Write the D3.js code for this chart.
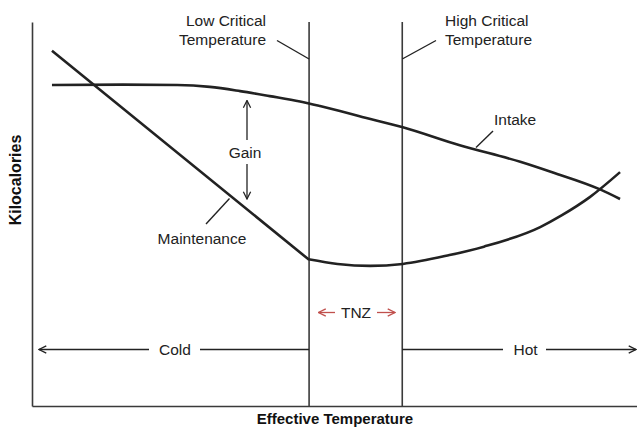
<!DOCTYPE html>
<html><head><meta charset="utf-8">
<script src="https://cdn.jsdelivr.net/npm/d3@7"></script>
<style>body{margin:0;background:#fff}svg{display:block}text{font-family:"Liberation Sans",Arial,sans-serif}</style>
</head><body>
<script>
// Data (effective temperature units 0-100, kilocalorie units 0-100)
// Maintenance: straight decline to the low critical temperature, then a smooth curve
const maintTemp = [3.3, 45.7, 50.5, 55.9, 61.3, 69, 74.7, 84, 87.6, 92.2, 97.2];
const maintKcal = [92.5, 38.2, 37.0, 36.5, 37.0, 39.3, 41.5, 46.6, 49.7, 54.4, 60.9];
const intakeTemp = [3.3, 15, 24, 29.4, 34.4, 39.3, 44.3, 47.6, 50.9, 54, 61.3, 70.7, 80.7, 86.1, 93.9, 97.2];
const intakeKcal = [83.6, 83.7, 83.6, 83.1, 82.0, 80.7, 79.3, 78.1, 76.8, 75.5, 72.6, 67.9, 63.6, 60.8, 56.4, 53.9];
const criticalTemps = [45.8, 61.2];
const criticalLabels = [["Low Critical", "Temperature"], ["High Critical", "Temperature"]];
const zoneLabels = ["Cold", "TNZ", "Hot"];
const seriesLabels = ["Intake", "Maintenance", "Gain"];
const axisTitles = ["Effective Temperature", "Kilocalories"];

const W = 637, H = 427;
const svg = d3.select("body").append("svg").attr("width", W).attr("height", H);
const x = d3.scaleLinear().domain([0, 100]).range([32, 637]);
const y = d3.scaleLinear().domain([0, 100]).range([406, 22]);
const ink = "#222", frame = "#3a3a3a";

// defs: arrowheads
const defs = svg.append("defs");
function marker(id, color) {
  defs.append("marker").attr("id", id).attr("viewBox", "0 0 10 10")
    .attr("refX", 9).attr("refY", 5).attr("markerWidth", 7).attr("markerHeight", 7)
    .attr("orient", "auto-start-reverse")
    .append("path").attr("d", "M1,1 L9,5 L1,9").attr("fill", "none")
    .attr("stroke", color).attr("stroke-width", 1.4);
}
marker("ab", ink); marker("ar", "#c0504d");

// axes (frame)
svg.append("g").attr("transform", `translate(0,${y(0)})`)
  .call(d3.axisBottom(x).ticks(0).tickSize(0).tickFormat(""))
  .call(g => g.select(".domain").attr("stroke", frame).attr("stroke-width", 1.6));
svg.append("g").attr("transform", `translate(${x(0)},0)`)
  .call(d3.axisLeft(y).ticks(0).tickSize(0).tickFormat(""))
  .call(g => g.select(".domain").attr("stroke", frame).attr("stroke-width", 1.6));

// critical temperature lines
svg.selectAll(".crit").data(criticalTemps).join("line")
  .attr("x1", d => x(d)).attr("x2", d => x(d)).attr("y1", y(100)).attr("y2", y(0))
  .attr("stroke", frame).attr("stroke-width", 1.6);

// curves
const smooth = d3.line().x(d => x(d[0])).y(d => y(d[1])).curve(d3.curveMonotoneX);
const straight = d3.line().x(d => x(d[0])).y(d => y(d[1]));
const intake = intakeTemp.map((t, i) => [t, intakeKcal[i]]);
const maint = maintTemp.map((t, i) => [t, maintKcal[i]]);
svg.append("path").datum(intake)
  .attr("d", smooth).attr("fill", "none").attr("stroke", ink).attr("stroke-width", 2.6);
const maintPath = straight(maint.slice(0, 2)) + "L" + smooth(maint.slice(1)).slice(1);
svg.append("path").attr("d", maintPath).attr("fill", "none").attr("stroke", ink)
  .attr("stroke-width", 2.6).attr("stroke-linejoin", "round");

function txt(s, px, py, anchor, opts = {}) {
  return svg.append("text").attr("x", px).attr("y", py).attr("text-anchor", anchor)
    .attr("font-size", opts.size || 15.5).attr("font-weight", opts.weight || "normal")
    .attr("fill", opts.fill || ink).text(s);
}
function seg(x1, y1, x2, y2, opts = {}) {
  const l = svg.append("line").attr("x1", x1).attr("y1", y1).attr("x2", x2).attr("y2", y2)
    .attr("stroke", opts.color || ink).attr("stroke-width", opts.w || 1.4);
  if (opts.end) l.attr("marker-end", `url(#${opts.end})`);
  return l;
}

// critical labels
txt(criticalLabels[0][0], 266, 26, "end");
txt(criticalLabels[0][1], 266, 45, "end");
seg(277, 40.5, x(criticalTemps[0]), 59);
txt(criticalLabels[1][0], 445, 26, "start");
txt(criticalLabels[1][1], 445, 45, "start");
seg(436, 40.5, x(criticalTemps[1]), 59);

// Intake label
txt(seriesLabels[0], 494, 125, "start");
seg(493, 131, 476, 147.5);

// Maintenance label
txt(seriesLabels[1], 202, 244, "middle");
seg(206, 224, 229.5, 198.5);

// Gain
txt(seriesLabels[2], 245, 158, "middle");
seg(247, 140, 247, 100.5, { end: "ab", w: 1.3 });
seg(247, 164, 247, 199, { end: "ab", w: 1.3 });

// zones
const zy = 349.5;
seg(149, zy, 39, zy, { end: "ab", w: 1.3 });
txt(zoneLabels[0], 175, zy + 5.5, "middle");
seg(200, zy, x(criticalTemps[0]), zy, { w: 1.3 });
seg(x(criticalTemps[1]), zy, 503, zy, { w: 1.3 });
txt(zoneLabels[2], 525.5, zy + 5.5, "middle");
seg(546, zy, 636, zy, { end: "ab", w: 1.3 });

const ty = 312.5;
seg(335, ty, 318.5, ty, { end: "ar", color: "#c0504d", w: 1.3 });
txt(zoneLabels[1], 356, ty + 5.5, "middle");
seg(377, ty, 395, ty, { end: "ar", color: "#c0504d", w: 1.3 });

// axis titles
txt(axisTitles[0], 335, 424, "middle", { size: 15, weight: "bold", fill: "#111" });
svg.append("text").attr("transform", "translate(21,180) rotate(-90)").attr("text-anchor", "middle")
  .attr("font-size", 16).attr("font-weight", "bold").attr("fill", "#111").text(axisTitles[1]);
</script>
</body></html>
